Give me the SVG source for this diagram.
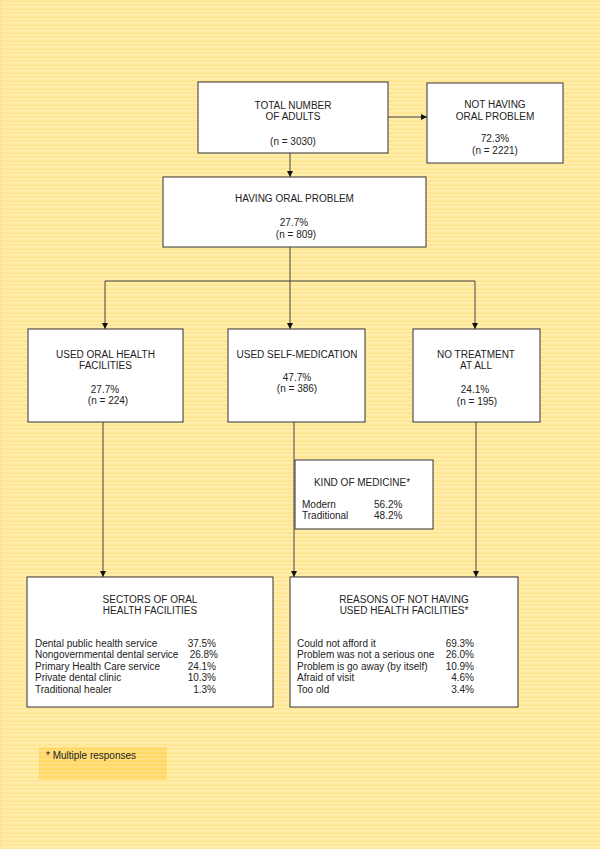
<svg xmlns="http://www.w3.org/2000/svg" width="600" height="849" viewBox="0 0 600 849">
<defs>
<pattern id="stripes" x="0" y="0" width="8" height="4" patternUnits="userSpaceOnUse">
<rect width="8" height="4" fill="#FFE596"/>
<rect y="2" width="8" height="2" fill="#FFEDAA"/>
</pattern>
<pattern id="stripes2" x="0" y="0" width="8" height="4" patternUnits="userSpaceOnUse">
<rect width="8" height="4" fill="#FFD868"/>
<rect y="2" width="8" height="2" fill="#FFDF7E"/>
</pattern>
<marker id="arr" viewBox="0 0 10 10" refX="10" refY="5" markerWidth="6" markerHeight="6" orient="auto" markerUnits="userSpaceOnUse">
<path d="M0,0 L10,5 L0,10 z" fill="#111"/>
</marker>
</defs>
<style>
.box{fill:#fff;stroke:#333;stroke-width:1}
.t{font-family:"Liberation Sans",Arial,sans-serif;font-size:10px;fill:#222}
.c{text-anchor:middle}
.r{text-anchor:end}
.ln{fill:none;stroke:#444;stroke-width:1}
</style>
<rect width="600" height="849" fill="url(#stripes)"/>
<rect x="0" y="0" width="3" height="849" fill="#FFE08A" opacity="0.6"/>

<g id="connectors">
<line class="ln" x1="388" y1="117" x2="427" y2="117" marker-end="url(#arr)"/>
<line class="ln" x1="290" y1="153" x2="290" y2="177" marker-end="url(#arr)"/>
<line class="ln" x1="290" y1="247" x2="290" y2="329" marker-end="url(#arr)"/>
<line class="ln" x1="105" y1="281" x2="475" y2="281"/>
<line class="ln" x1="105" y1="281" x2="105" y2="329" marker-end="url(#arr)"/>
<line class="ln" x1="475" y1="281" x2="475" y2="329" marker-end="url(#arr)"/>
<line class="ln" x1="103" y1="422" x2="103" y2="577" marker-end="url(#arr)"/>
<line class="ln" x1="294" y1="422" x2="294" y2="577" marker-end="url(#arr)"/>
<line class="ln" x1="476" y1="422" x2="476" y2="577" marker-end="url(#arr)"/>
</g>

<g id="total">
<rect class="box" x="198" y="82" width="190" height="71"/>
<text class="t c" x="293" y="109">TOTAL NUMBER</text>
<text class="t c" x="293" y="120">OF ADULTS</text>
<text class="t c" x="293" y="145">(n = 3030)</text>
</g>

<g id="not-having">
<rect class="box" x="427" y="83" width="136" height="80"/>
<text class="t c" x="495" y="108">NOT HAVING</text>
<text class="t c" x="495" y="120">ORAL PROBLEM</text>
<text class="t c" x="495" y="142">72.3%</text>
<text class="t c" x="495" y="154">(n = 2221)</text>
</g>

<g id="having">
<rect class="box" x="163" y="177" width="263" height="70"/>
<text class="t c" x="294.5" y="202">HAVING ORAL PROBLEM</text>
<text class="t c" x="294" y="226">27.7%</text>
<text class="t c" x="296" y="238">(n = 809)</text>
</g>

<g id="used-oral">
<rect class="box" x="28" y="329" width="155" height="93"/>
<text class="t c" x="105.5" y="358">USED ORAL HEALTH</text>
<text class="t c" x="105.5" y="369">FACILITIES</text>
<text class="t c" x="105" y="393">27.7%</text>
<text class="t c" x="108" y="404">(n = 224)</text>
</g>

<g id="self-med">
<rect class="box" x="228" y="329" width="137" height="93"/>
<text class="t c" x="297" y="358">USED SELF-MEDICATION</text>
<text class="t c" x="297" y="381">47.7%</text>
<text class="t c" x="297" y="392">(n = 386)</text>
</g>

<g id="no-treatment">
<rect class="box" x="413" y="329" width="127" height="93"/>
<text class="t c" x="476" y="358">NO TREATMENT</text>
<text class="t c" x="476" y="369">AT ALL</text>
<text class="t c" x="475" y="393">24.1%</text>
<text class="t c" x="477" y="405">(n = 195)</text>
</g>

<g id="kind-medicine">
<rect class="box" x="295" y="460" width="138" height="69"/>
<text class="t c" x="362" y="486">KIND OF MEDICINE*</text>
<text class="t" x="302" y="508">Modern</text>
<text class="t" x="374" y="508">56.2%</text>
<text class="t" x="302" y="519">Traditional</text>
<text class="t" x="374" y="519">48.2%</text>
</g>

<g id="sectors">
<rect class="box" x="27" y="577" width="246" height="130"/>
<text class="t c" x="150" y="603">SECTORS OF ORAL</text>
<text class="t c" x="150" y="614">HEALTH FACILITIES</text>
<text class="t" x="35" y="647">Dental public health service</text>
<text class="t r" x="216" y="647">37.5%</text>
<text class="t" x="35" y="658">Nongovernmental dental service</text>
<text class="t r" x="218" y="658">26.8%</text>
<text class="t" x="35" y="670">Primary Health Care service</text>
<text class="t r" x="216" y="670">24.1%</text>
<text class="t" x="35" y="681">Private dental clinic</text>
<text class="t r" x="216" y="681">10.3%</text>
<text class="t" x="35" y="693">Traditional healer</text>
<text class="t r" x="216" y="693">1.3%</text>
</g>

<g id="reasons">
<rect class="box" x="290" y="577" width="228" height="130"/>
<text class="t c" x="404" y="603">REASONS OF NOT HAVING</text>
<text class="t c" x="404" y="614">USED HEALTH FACILITIES*</text>
<text class="t" x="297" y="647">Could not afford it</text>
<text class="t r" x="474" y="647">69.3%</text>
<text class="t" x="297" y="658">Problem was not a serious one</text>
<text class="t r" x="474" y="658">26.0%</text>
<text class="t" x="297" y="670">Problem is go away (by itself)</text>
<text class="t r" x="474" y="670">10.9%</text>
<text class="t" x="297" y="681">Afraid of visit</text>
<text class="t r" x="474" y="681">4.6%</text>
<text class="t" x="297" y="693">Too old</text>
<text class="t r" x="474" y="693">3.4%</text>
</g>

<g id="footnote">
<rect x="39" y="747" width="128" height="33" fill="url(#stripes2)"/>
<text class="t" x="46" y="759">* Multiple responses</text>
</g>
</svg>
